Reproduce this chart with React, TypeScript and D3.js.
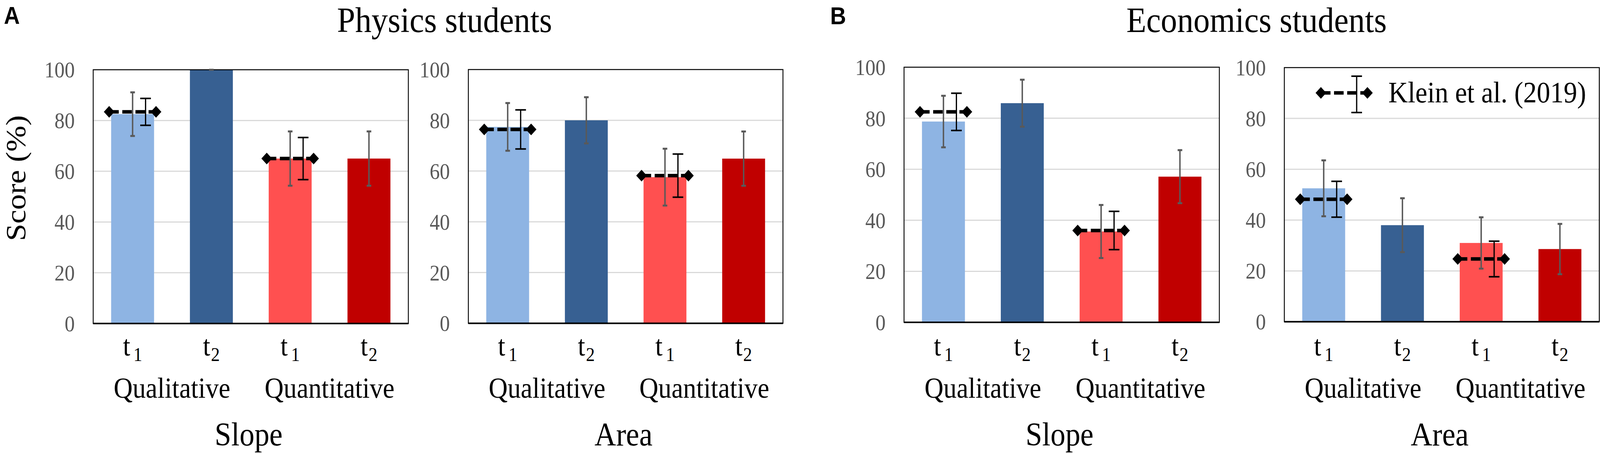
import React from "react";
import * as d3 from "d3";

// ---------- data ----------
const studentGroups = ["Physics students", "Economics students"];
const panelLetters = ["A", "B"];
const taskLabels = ["Slope", "Area", "Slope", "Area"];
const formatLabels = ["Qualitative", "Quantitative"];
const timeSubscripts = ["1", "2", "1", "2"];
const yTicks = [0, 20, 40, 60, 80, 100];
const gridTicks = [20, 40, 60, 80];
const barColors = ["#8EB4E3", "#376092", "#FF5050", "#C00000"];

const physicsSlopeMeans = [82.5, 100, 65, 65];
const physicsSlopeErrors = [8.6, 0, 10.7, 10.7];
const physicsSlopeKleinMeans = [83.4, 65];
const physicsSlopeKleinErrors = [5.3, 8.3];

const physicsAreaMeans = [77.4, 80, 57.6, 64.9];
const physicsAreaErrors = [9.4, 9.1, 11.2, 10.7];
const physicsAreaKleinMeans = [76.4, 58.2];
const physicsAreaKleinErrors = [7.7, 8.5];

const economicsSlopeMeans = [78.7, 85.9, 35.6, 57.1];
const economicsSlopeErrors = [10.1, 9.2, 10.4, 10.4];
const economicsSlopeKleinMeans = [82.5, 36];
const economicsSlopeKleinErrors = [7.3, 7.5];

const economicsAreaMeans = [52.5, 38, 31, 28.6];
const economicsAreaErrors = [11, 10.6, 10.1, 9.9];
const economicsAreaKleinMeans = [48.2, 24.7];
const economicsAreaKleinErrors = [7.05, 7];

const legendLabel = "Klein et al. (2019)";

// ---------- layout ----------
const W = 4506;
const H = 1162;
const SERIF = "'Liberation Serif', 'Times New Roman', serif";
const SANS = "'Liberation Sans', Arial, sans-serif";

const panelBoxes = [
  { x0: 262.5, x1: 1150, y0: 178.5, y1: 828 },
  { x0: 1319, x1: 2205, y0: 178, y1: 827.5 },
  { x0: 2546, x1: 3434, y0: 172, y1: 825 },
  { x0: 3617, x1: 4504, y0: 173, y1: 823.5 },
];

const panelData = [
  { means: physicsSlopeMeans, errs: physicsSlopeErrors, km: physicsSlopeKleinMeans, ke: physicsSlopeKleinErrors },
  { means: physicsAreaMeans, errs: physicsAreaErrors, km: physicsAreaKleinMeans, ke: physicsAreaKleinErrors },
  { means: economicsSlopeMeans, errs: economicsSlopeErrors, km: economicsSlopeKleinMeans, ke: economicsSlopeKleinErrors },
  { means: economicsAreaMeans, errs: economicsAreaErrors, km: economicsAreaKleinMeans, ke: economicsAreaKleinErrors },
];

function Diamond({ x, y, r }: { x: number; y: number; r: number }) {
  return <path d={`M${x - r},${y}L${x},${y - r}L${x + r},${y}L${x},${y + r}Z`} fill="#000" />;
}

function KleinLine({ cx, y, half }: { cx: number; y: number; half: number }) {
  return (
    <g>
      <line x1={cx - half} x2={cx + half} y1={y} y2={y} stroke="#000" strokeWidth={9} strokeDasharray="27 10" />
      <Diamond x={cx - half} y={y} r={15} />
      <Diamond x={cx + half} y={y} r={15} />
    </g>
  );
}

function ErrBar({ x, yTop, yBot, color, sw, capW, capSw }: any) {
  return (
    <g stroke={color}>
      <line x1={x} x2={x} y1={yTop} y2={yBot} strokeWidth={sw} />
      <line x1={x - capW / 2} x2={x + capW / 2} y1={yTop} y2={yTop} strokeWidth={capSw} />
      <line x1={x - capW / 2} x2={x + capW / 2} y1={yBot} y2={yBot} strokeWidth={capSw} />
    </g>
  );
}

function Panel({ idx }: { idx: number }) {
  const box = panelBoxes[idx];
  const data = panelData[idx];
  const x = d3
    .scaleBand<number>()
    .domain([0, 1, 2, 3])
    .range([box.x0, box.x1])
    .paddingInner(0.455)
    .paddingOuter(0.2275);
  const y = d3.scaleLinear().domain([0, 100]).range([box.y1, box.y0]);
  const bw = x.bandwidth();
  const kleinIdx = [0, 2];
  return (
    <g>
      {gridTicks.map((t) => (
        <line key={t} x1={box.x0} x2={box.x1} y1={y(t)} y2={y(t)} stroke="#D9D9D9" strokeWidth={3} />
      ))}
      {yTicks.map((t) => (
        <text
          key={t}
          x={box.x0 - 52}
          y={y(t) + 20}
          textAnchor="end"
          fontFamily={SERIF}
          fontSize={57}
          fill="#595959"
        >
          {t}
        </text>
      ))}
      {data.means.map((m, i) => (
        <rect key={i} x={x(i)} y={y(m)} width={bw} height={y(0) - y(m)} fill={barColors[i]} />
      ))}
      <rect x={box.x0} y={box.y0} width={box.x1 - box.x0} height={box.y1 - box.y0} fill="none" stroke="#000" strokeWidth={2.5} />
      <line x1={box.x0} x2={box.x1} y1={box.y1} y2={box.y1} stroke="#000" strokeWidth={4} />
      {kleinIdx.map((bi, k) => {
        const cx = (x(bi) as number) + bw / 2;
        return <KleinLine key={"kl" + k} cx={cx} y={y(data.km[k])} half={66} />;
      })}
      {data.means.map((m, i) => {
        const cx = (x(i) as number) + bw / 2;
        const e = data.errs[i];
        return (
          <ErrBar
            key={"e" + i}
            x={cx}
            yTop={y(Math.min(100, m + e))}
            yBot={y(m - e)}
            color="#595959"
            sw={4}
            capW={13}
            capSw={5}
          />
        );
      })}
      {kleinIdx.map((bi, k) => {
        const cx = (x(bi) as number) + bw / 2 + 36.5;
        return (
          <ErrBar
            key={"ke" + k}
            x={cx}
            yTop={y(data.km[k] + data.ke[k])}
            yBot={y(data.km[k] - data.ke[k])}
            color="#000"
            sw={3.5}
            capW={30}
            capSw={4}
          />
        );
      })}
      {timeSubscripts.map((s, i) => {
        const cx = (x(i) as number) + bw / 2;
        return (
          <text key={"t" + i} x={cx} y={910} textAnchor="middle" fontFamily={SERIF} fontSize={74} fill="#000">
            <tspan>t</tspan>
            <tspan dx={s === "1" ? 9 : 2} dy={14} fontSize={50}>
              {s}
            </tspan>
          </text>
        );
      })}
      {formatLabels.map((f, g) => {
        const cx = ((x(2 * g) as number) + (x(2 * g + 1) as number) + bw) / 2;
        return (
          <text key={f} x={cx} y={1018} textAnchor="middle" fontFamily={SERIF} fontSize={74} fill="#000">
            {f}
          </text>
        );
      })}
      <text
        x={(box.x0 + box.x1) / 2 - 6}
        y={1140}
        textAnchor="middle"
        fontFamily={SERIF}
        fontSize={84}
        fill="#000"
      >
        {taskLabels[idx]}
      </text>
    </g>
  );
}

export default function App() {
  return (
    <svg
      viewBox={`0 0 ${W} ${H}`}
      preserveAspectRatio="none"
      style={{
        position: "fixed",
        left: 0,
        top: 0,
        width: "100vw",
        height: "100vh",
        display: "block",
        background: "#fff",
      }}
    >
      <rect x={0} y={0} width={W} height={H} fill="#fff" />
      <text x={11} y={61} fontFamily={SANS} fontWeight="bold" fontSize={62}>
        {panelLetters[0]}
      </text>
      <text x={2338} y={62} fontFamily={SANS} fontWeight="bold" fontSize={62}>
        {panelLetters[1]}
      </text>
      <text x={949} y={82} fontFamily={SERIF} fontSize={92}>
        {studentGroups[0]}
      </text>
      <text x={3172} y={82} fontFamily={SERIF} fontSize={92}>
        {studentGroups[1]}
      </text>
      <text
        x={0}
        y={0}
        transform="translate(72,456) rotate(-90)"
        textAnchor="middle"
        fontFamily={SERIF}
        fontSize={80}
      >
        Score (%)
      </text>
      {panelBoxes.map((_, i) => (
        <Panel key={i} idx={i} />
      ))}
      {/* legend */}
      <KleinLine cx={3785.5} y={237.7} half={65.5} />
      <ErrBar x={3820.7} yTop={195} yBot={288} color="#000" sw={3.5} capW={30} capSw={4} />
      <text x={3910} y={262} fontFamily={SERIF} fontSize={76}>
        {legendLabel}
      </text>
    </svg>
  );
}
